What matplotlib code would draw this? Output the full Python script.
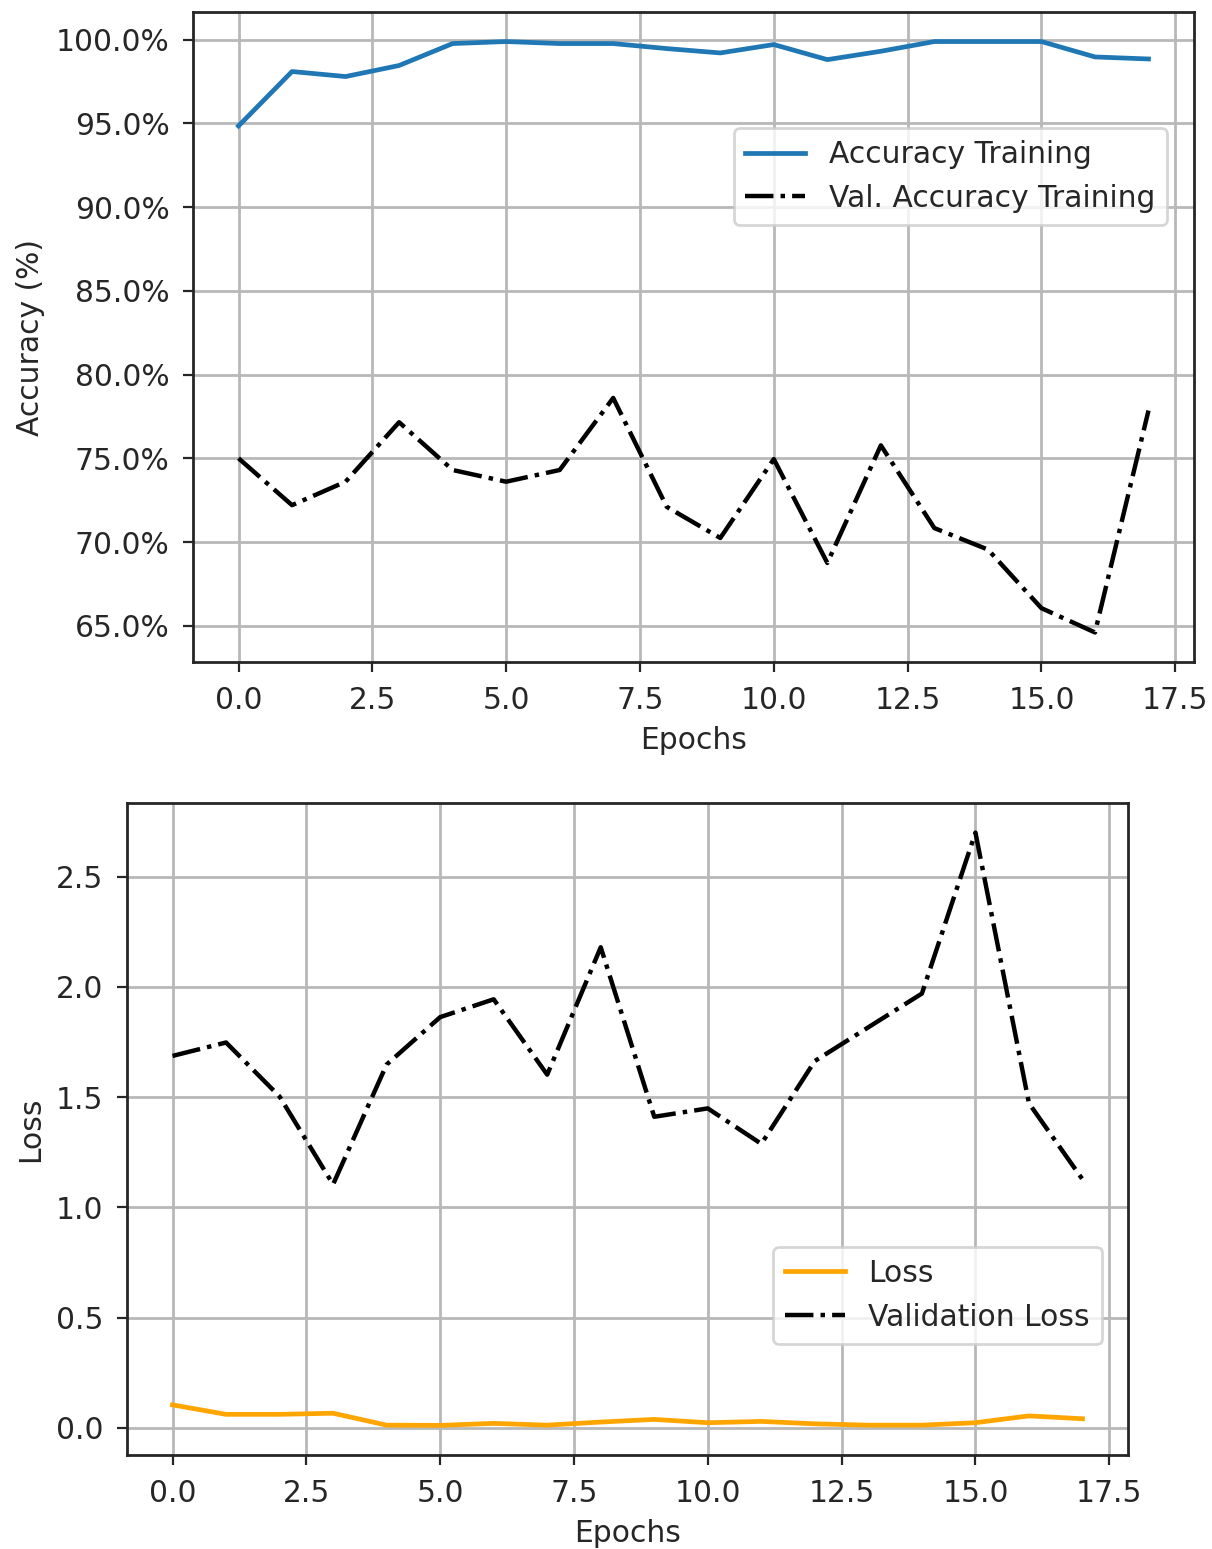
import matplotlib
matplotlib.use("Agg")
import matplotlib.pyplot as plt
from matplotlib.ticker import PercentFormatter

epochs = list(range(18))

accuracy = [94.84, 98.09, 97.79, 98.45, 99.76, 99.88, 99.76, 99.76, 99.46,
            99.20, 99.70, 98.80, 99.30, 99.88, 99.88, 99.88, 98.96, 98.84]
val_accuracy = [75.0, 72.2, 73.6, 77.15, 74.3, 73.6, 74.3, 78.6, 72.1,
                70.24, 74.95, 68.75, 75.77, 70.83, 69.55, 66.05, 64.6, 77.85]

loss = [0.104, 0.061, 0.061, 0.066, 0.012, 0.011, 0.020, 0.012, 0.026,
        0.038, 0.023, 0.029, 0.018, 0.012, 0.012, 0.023, 0.054, 0.041]
val_loss = [1.687, 1.748, 1.503, 1.104, 1.648, 1.863, 1.944, 1.602, 2.180,
            1.411, 1.449, 1.288, 1.664, 1.817, 1.970, 2.700, 1.472, 1.127]

plt.rcParams.update({
    "font.size": 10.7,
    "text.color": "#262626",
    "axes.labelcolor": "#262626",
    "xtick.color": "#262626",
    "ytick.color": "#262626",
    "axes.edgecolor": "#262626",
    "axes.linewidth": 1.0,
    "xtick.major.pad": 5.0,
    "ytick.major.pad": 5.0,
    "grid.color": "#b8b8b8",
    "grid.linewidth": 1.0,
})

W, H = 1212, 1549
fig = plt.figure(figsize=(W / 200, H / 200), dpi=200)


def px_axes(left, top, right, bottom):
    return fig.add_axes([left / W, 1 - bottom / H, (right - left) / W, (bottom - top) / H])


# Accuracy panel
ax1 = px_axes(193, 12, 1194, 662)
ax1.plot(epochs, accuracy, color="#1f77b4", linewidth=1.7, label="Accuracy Training")
ax1.plot(epochs, val_accuracy, "k-.", linewidth=1.6, label="Val. Accuracy Training")
ax1.yaxis.set_major_formatter(PercentFormatter(xmax=100, decimals=1))
ax1.set_xlabel("Epochs")
ax1.set_ylabel("Accuracy (%)")
ax1.grid(True)
ax1.legend(loc="upper right", bbox_to_anchor=(0.973, 0.8215), borderaxespad=0)

# Loss panel
ax2 = px_axes(127, 803, 1128, 1455)
ax2.plot(epochs, loss, color="orange", linewidth=1.7, label="Loss")
ax2.plot(epochs, val_loss, "k-.", linewidth=1.6, label="Validation Loss")
ax2.set_xlabel("Epochs")
ax2.set_ylabel("Loss")
ax2.grid(True)
ax2.legend(loc="upper right", bbox_to_anchor=(0.974, 0.319), borderaxespad=0)

fig.savefig("out.png", dpi=200)
